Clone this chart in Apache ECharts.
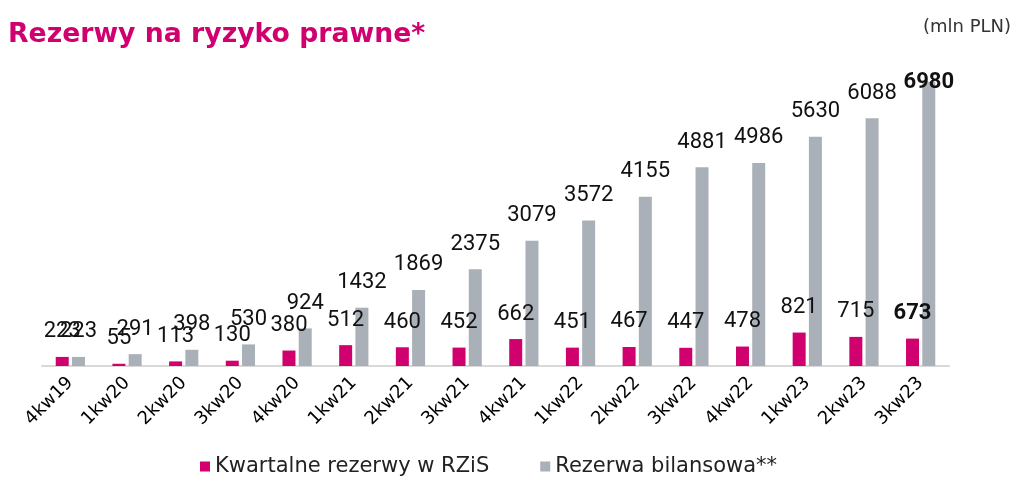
<!DOCTYPE html>
<html>
<head>
<meta charset="utf-8">
<script src="https://cdn.jsdelivr.net/npm/echarts@6/dist/echarts.min.js"></script>
<style>
  html, body { margin: 0; padding: 0; background: #fff; }
  #chart { width: 1025px; height: 482px; }
</style>
</head>
<body>
<div id="chart"></div>
<script>
const quarters = ['4kw19', '1kw20', '2kw20', '3kw20', '4kw20', '1kw21', '2kw21', '3kw21',
  '4kw21', '1kw22', '2kw22', '3kw22', '4kw22', '1kw23', '2kw23', '3kw23']
const quarterly = [223, 55, 113, 130, 380, 512, 460, 452, 662, 451, 467, 447, 478, 821, 715, 673]
const balance = [223, 291, 398, 530, 924, 1432, 1869, 2375, 3079, 3572, 4155, 4881, 4986, 5630, 6088, 6980]
const seriesNames = ['Kwartalne rezerwy w RZiS', 'Rezerwa bilansowa**']

const font = 'DejaVu Sans'
const last = quarters.length - 1

// last value of each series is shown in bold
const quarterlyData = quarterly.map((v, i) => i === last ? { value: v, label: { fontWeight: 'bold' } } : v)
const balanceData = balance.map((v, i) => i === last
  ? { value: v, label: { fontWeight: 'bold', offset: [0, 26] } }
  : v)

const labelStyle = {
  show: true,
  position: 'top',
  distance: 14,
  fontFamily: 'Roboto',
  fontSize: 22,
  color: '#111'
}

const option = {
  animation: false,
  title: [{
    text: 'Rezerwy na ryzyko prawne*',
    left: 3,
    top: 17,
    textStyle: { fontFamily: font, fontSize: 26.7, fontWeight: 'bold', color: '#D0006F' }
  }, {
    text: '(mln PLN)',
    right: 9,
    top: 13,
    textStyle: { fontFamily: font, fontSize: 18, fontWeight: 'normal', color: '#333' }
  }],
  legend: {
    bottom: 0,
    left: 195,
    itemWidth: 10,
    itemHeight: 10,
    itemGap: 51,
    icon: 'rect',
    textStyle: { fontFamily: font, fontSize: 21, color: '#222' },
    data: seriesNames
  },
  grid: { left: 42, right: 76, top: 81, bottom: 116 },
  xAxis: {
    type: 'category',
    data: quarters,
    axisLine: { lineStyle: { color: '#D9D9D9', width: 2 } },
    axisTick: { show: false },
    axisLabel: {
      rotate: 45,
      margin: 14,
      interval: 0,
      fontFamily: font,
      fontSize: 18,
      color: '#000'
    }
  },
  yAxis: {
    type: 'value',
    min: 0,
    max: 7000,
    show: false
  },
  series: [{
    name: seriesNames[0],
    type: 'bar',
    data: quarterlyData,
    barWidth: 13,
    barGap: '25%',
    itemStyle: { color: '#D0006F' },
    label: labelStyle
  }, {
    name: seriesNames[1],
    type: 'bar',
    data: balanceData,
    barWidth: 13,
    itemStyle: { color: '#A9B0B8' },
    label: labelStyle
  }]
}

const chart = echarts.init(document.getElementById('chart'))
chart.setOption(option)
</script>
</body>
</html>
